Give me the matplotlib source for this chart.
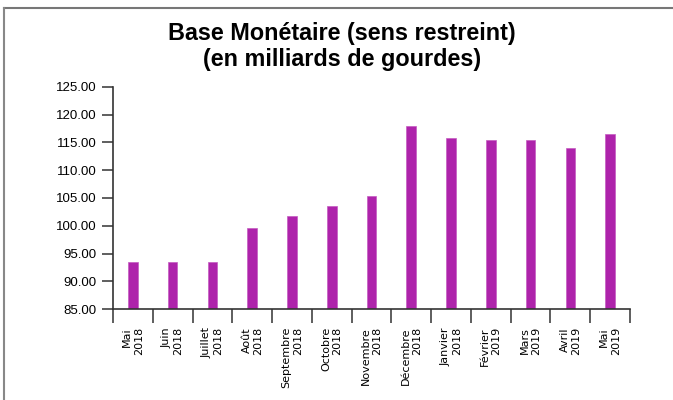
import numpy as np
import matplotlib.pyplot as plt
from matplotlib.lines import Line2D

months = ["Mai\n2018", "Juin\n2018", "Juillet\n2018", "Août\n2018", "Septembre\n2018",
          "Octobre\n2018", "Novembre\n2018", "Décembre\n2018", "Janvier\n2018",
          "Février\n2019", "Mars\n2019", "Avril\n2019", "Mai\n2019"]
values = [93.5, 93.5, 93.5, 99.6, 101.8, 103.6, 105.4, 117.9, 115.8, 115.4, 115.4, 114.0, 116.5]

fig = plt.figure(figsize=(6.73, 4), dpi=100)
ax = fig.add_axes([0.168, 0.2275, 0.768, 0.555])

x = np.arange(len(months))
ax.bar(x, np.array(values) - 85, bottom=85, width=0.24, color='#AE23AB', edgecolor='#C45CC0', linewidth=0.5)

ax.set_xlim(-0.5, len(months) - 0.5)
ax.set_ylim(85, 125)
ax.set_yticks(np.arange(85, 126, 5))
ax.set_yticklabels(["%.2f" % v for v in np.arange(85, 126, 5)], fontsize=9.5, family='Liberation Sans')
ax.tick_params(axis='y', direction='out', length=8, width=1.1, color='#333333', pad=4)

ax.set_xticks(np.arange(-0.5, len(months), 1))
ax.set_xticklabels([])
ax.tick_params(axis='x', which='major', direction='out', length=10, width=1.1, color='#333333')
ax.set_xticks(x, minor=True)
ax.set_xticklabels(months, minor=True, rotation=90, fontsize=8, va='top', ha='center',
                   multialignment='right', family=['Liberation Sans Narrow', 'DejaVu Sans'])
ax.tick_params(axis='x', which='minor', length=0, pad=13)

for s in ['top', 'right']:
    ax.spines[s].set_visible(False)
for s in ['left', 'bottom']:
    ax.spines[s].set_color('#333333')
    ax.spines[s].set_linewidth(1.2)

fig.text(0.508, 0.884, "Base Monétaire (sens restreint)\n(en milliards de gourdes)",
         ha='center', va='center', fontsize=16.8, fontweight='bold',
         family='Liberation Sans', linespacing=1.15)

# outer frame (top and left)
fig.add_artist(Line2D([0.006, 1.0], [0.98, 0.98], transform=fig.transFigure, color='#777777', lw=1.5))
fig.add_artist(Line2D([0.006, 0.006], [0.0, 0.98], transform=fig.transFigure, color='#888888', lw=1.5))

fig.savefig("out.png", dpi=100)
